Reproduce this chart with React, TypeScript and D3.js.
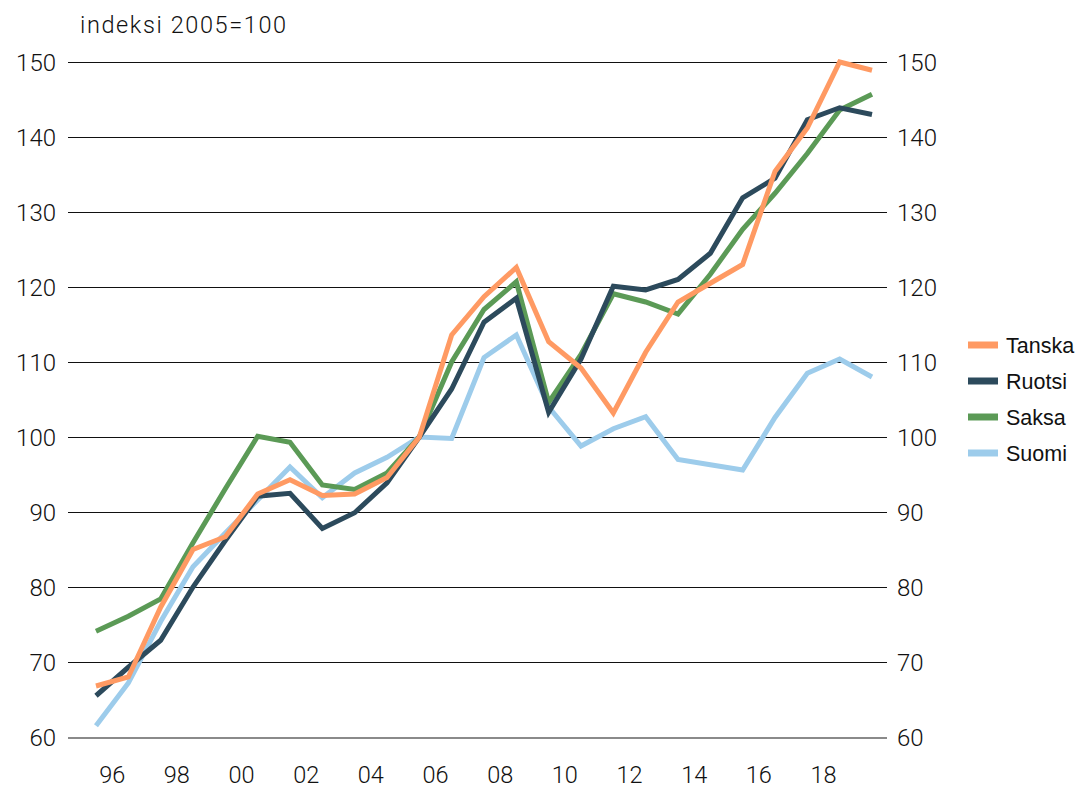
import React, { useEffect, useRef } from 'react';
import * as d3 from 'd3';

// vuodet 1995-2019
const years = d3.range(1995, 2020);

const tanska = [66.8, 68, 77.3, 85, 86.7, 92.4, 94.3, 92.2, 92.4, 94.6, 100, 113.6, 118.7, 122.6, 112.7, 109.2, 103.2, 111.3, 118, 120.5, 123, 135.4, 141.2, 150, 148.9];
const ruotsi = [65.5, 69.3, 72.9, 80, 86.2, 92.1, 92.5, 87.8, 89.9, 93.9, 100, 106.4, 115.3, 118.5, 103.3, 110.4, 120.1, 119.6, 121, 124.5, 131.9, 134.5, 142.3, 143.9, 143];
const saksa = [74.1, 76.1, 78.4, 85.9, 93.1, 100.1, 99.3, 93.6, 93, 95.2, 100, 110, 117, 120.7, 104.6, 111, 119.1, 118, 116.4, 121.7, 127.7, 132.5, 137.8, 143.6, 145.7];
const suomi = [61.5, 67.2, 75.4, 82.7, 87.2, 91.6, 96, 91.9, 95.2, 97.3, 100, 99.8, 110.6, 113.6, 104, 98.8, 101.1, 102.7, 97, 96.3, 95.6, 102.6, 108.5, 110.4, 108];

const seriesNames = ['Tanska', 'Ruotsi', 'Saksa', 'Suomi'];
const seriesColors = ['#ff9a63', '#2c4a5c', '#5b9a56', '#9dcceb'];
const seriesData = [tanska, ruotsi, saksa, suomi];

const yTicks = [60, 70, 80, 90, 100, 110, 120, 130, 140, 150];
const xLabels = ['96', '98', '00', '02', '04', '06', '08', '10', '12', '14', '16', '18'];
const xLabelYears = [1996, 1998, 2000, 2002, 2004, 2006, 2008, 2010, 2012, 2014, 2016, 2018];

const FONT = 'Roboto, "Noto Sans", sans-serif';
const LEGEND_FONT = '"Liberation Sans", Arial, sans-serif';

const App = () => {
  const ref = useRef<SVGSVGElement>(null);

  useEffect(() => {
    const svg = d3.select(ref.current);
    svg.selectAll('*').remove();

    const x = d3.scaleLinear().domain([1995, 2019]).range([96, 872]);
    const y = d3.scaleLinear().domain([60, 150]).range([737, 62]);

    // ruudukko
    svg.append('g')
      .selectAll('line')
      .data(yTicks)
      .enter()
      .append('line')
      .attr('x1', 68)
      .attr('x2', 887)
      .attr('y1', (d) => Math.round(y(d)) + 0.5)
      .attr('y2', (d) => Math.round(y(d)) + 0.5)
      .attr('stroke', (d) => (d === 60 ? '#8a8a8a' : '#111'))
      .attr('stroke-width', (d) => (d === 60 ? 2 : 1))
      .attr('shape-rendering', 'crispEdges');

    const style = (sel, size) => sel
      .attr('font-family', FONT)
      .attr('font-weight', 300)
      .attr('font-size', size)
      .attr('fill', '#111');

    // y-akselit molemmin puolin
    style(svg.append('g')
      .selectAll('text')
      .data(yTicks)
      .enter()
      .append('text')
      .attr('x', 56)
      .attr('y', (d) => y(d))
      .attr('dy', '0.36em')
      .attr('text-anchor', 'end'), 24)
      .text((d) => d);

    style(svg.append('g')
      .selectAll('text')
      .data(yTicks)
      .enter()
      .append('text')
      .attr('x', 897)
      .attr('y', (d) => y(d))
      .attr('dy', '0.36em')
      .attr('text-anchor', 'start'), 24)
      .text((d) => d);

    // x-akselin tekstit
    style(svg.append('g')
      .selectAll('text')
      .data(xLabels)
      .enter()
      .append('text')
      .attr('x', (d, i) => x(xLabelYears[i] - 0.5))
      .attr('y', 783)
      .attr('text-anchor', 'middle'), 23.5)
      .text((d) => d);

    style(svg.append('text')
      .attr('x', 80)
      .attr('y', 33)
      .attr('letter-spacing', 1.6), 23.5)
      .text('indeksi 2005=100');

    const line = d3.line<number>()
      .x((d, i) => x(years[i]))
      .y((d) => y(d));

    // Suomi alimmaisena, Tanska päällimmäisenä
    [3, 2, 1, 0].forEach((k) => {
      svg.append('path')
        .datum(seriesData[k])
        .attr('d', line)
        .attr('fill', 'none')
        .attr('stroke', seriesColors[k])
        .attr('stroke-width', 5)
        .attr('stroke-linejoin', 'miter');
    });

    // selite
    const legend = svg.append('g')
      .selectAll('g')
      .data(seriesNames)
      .enter()
      .append('g')
      .attr('transform', (d, i) => `translate(968,${345 + i * 36})`);

    legend.append('line')
      .attr('x1', 0)
      .attr('x2', 30)
      .attr('stroke', (d, i) => seriesColors[i])
      .attr('stroke-width', 7);

    legend.append('text')
      .attr('x', 38)
      .attr('dy', '0.36em')
      .attr('font-family', LEGEND_FONT)
      .attr('font-size', 21.5)
      .attr('fill', '#111')
      .text((d) => d);
  }, []);

  return (
    <svg ref={ref} width={1081} height={788} style={{ position: 'absolute', left: 0, top: 0, background: '#fff' }} />
  );
};

export default App;
